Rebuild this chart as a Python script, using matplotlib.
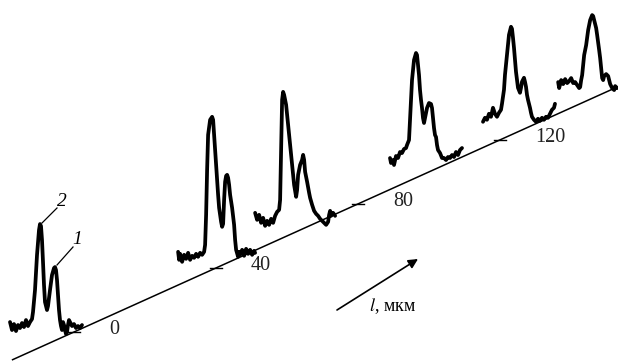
import numpy as np
import matplotlib.pyplot as plt

plt.rcParams['font.family'] = ['Liberation Serif', 'DejaVu Serif']
plt.rcParams['mathtext.fontset'] = 'stix'

# positions of the scanned profiles along the sample, мкм
profile_l = [3.1, 48.2, 71.3, 109.3, 133.8, 156.1]

# each profile: scan coordinate (relative to the axis) and signal (arb. units)
scan_1 = [-75, -73, -71, -69, -67, -65, -63, -61, -59, -57, -55, -53, -52, -50, -48, -46, -45,
          -44, -43, -42, -41, -40, -38, -37, -35, -33, -31, -30, -29, -28, -27, -26, -25, -24,
          -23, -22, -21, -20, -19, -18, -17, -16, -15, -13, -11, -9, -7, -5, -3]
signal_1 = [5, -3, 3, -4, 2, -1, 4, 0, 7, 1, 5, 8, 15, 37, 72, 97, 103,
            101, 87, 65, 42, 25, 17, 21, 37, 52, 59, 60, 57, 47, 32, 17, 7, 1,
            -3, 5, 2, -3, -7, -5, 2, 7, 5, 1, 3, -1, 1, -1, 2]

scan_2 = [-67, -66, -65, -63, -61, -59, -57, -55, -53, -51, -49, -47, -45, -43, -41, -40, -39, -38,
          -37, -35, -33, -32, -31, -30, -29, -28, -27, -26, -25, -24, -23, -22, -21, -20, -19, -18,
          -17, -16, -15, -13, -11, -10, -9, -7, -6, -5, -3, -1, 1, 3, 5, 7, 9, 10]
signal_2 = [3, -5, 1, -7, 0, -4, 2, -5, -1, -3, 1, -2, 2, 0, 3, 10, 40, 85,
            120, 135, 138, 135, 120, 105, 90, 75, 60, 47, 40, 33, 28, 31, 55, 73, 79, 80,
            77, 70, 60, 47, 30, 15, 5, -2, 3, 0, 5, -1, 6, 1, 5, 0, 4, 2]

scan_3 = [-72, -70, -68, -66, -64, -62, -60, -58, -56, -54, -52, -50, -48, -47, -46, -45, -44,
          -43, -41, -40, -39, -37, -35, -33, -31, -30, -29, -27, -25, -24, -23, -22, -20, -18,
          -17, -15, -13, -11, -9, -7, -5, -3, -1, 1, 2, 3, 4, 6, 8]
signal_3 = [5, -2, 3, -5, 0, -8, -3, -7, -1, -5, 2, 6, 8, 18, 68, 118, 126,
            123, 113, 103, 93, 73, 53, 33, 21, 28, 43, 53, 58, 63, 58, 46, 36, 25,
            20, 13, 7, 4, 2, -1, -3, -5, -7, -4, 3, 7, 2, 5, 2]

scan_4 = [-72, -71, -69, -68, -66, -64, -62, -60, -58, -56, -55, -53, -52, -51, -50, -48,
          -46, -45, -44, -43, -42, -41, -40, -39, -38, -37, -35, -33, -31, -30, -29, -28,
          -27, -26, -25, -24, -22, -20, -18, -16, -14, -12, -10, -8, -6, -4, -2, 0]
signal_4 = [-1, -6, -3, -8, 1, -1, 5, 4, 8, 9, 12, 17, 37, 57, 77, 97,
            104, 102, 92, 82, 67, 57, 49, 39, 34, 39, 49, 54, 53, 49, 39, 29,
            22, 20, 12, 7, 4, -1, -1, -3, 0, -1, 2, 0, 5, 2, 7, 9]

scan_5 = [-66, -64, -62, -60, -58, -56, -54, -52, -50, -48, -47, -45, -44, -42, -40, -38,
          -37, -36, -35, -34, -33, -32, -31, -29, -28, -27, -26, -25, -24, -23, -22, -21,
          -20, -19, -18, -17, -15, -13, -11, -9, -7, -5, -3, -1, 1, 3, 5, 6]
signal_5 = [-4, 0, -2, 4, 1, 10, 4, 1, 5, 8, 14, 28, 43, 63, 83, 91,
            89, 80, 70, 58, 46, 38, 30, 25, 30, 36, 38, 40, 36, 31, 23, 18,
            14, 10, 5, 1, -2, -4, -1, -3, 0, -2, 1, 0, 4, 8, 10, 14]

scan_6 = [-70, -69, -67, -65, -63, -61, -59, -57, -55, -53, -51, -49, -48, -47, -46, -45, -44,
          -42, -40, -38, -36, -35, -34, -32, -31, -29, -28, -27, -26, -25, -24, -22, -20,
          -19, -18, -16, -14, -13, -11]
signal_6 = [0, -6, 2, -2, 3, -1, 1, 4, -1, 0, -3, -6, -5, 2, 7, 17, 27,
            37, 52, 62, 67, 66, 62, 54, 47, 32, 24, 14, 4, 2, 6, 8, 6,
            2, -2, -6, -8, -4, -6]

axis_range = [-17.5, 153.2]
axis_ticks = [0, 40, 80, 120]
tick_labels = ['0', '40', '80', '120']

scans = [scan_1, scan_2, scan_3, scan_4, scan_5, scan_6]
signals = [signal_1, signal_2, signal_3, signal_4, signal_5, signal_6]

# oblique projection: l runs up the slanted axis, scan horizontal, signal vertical
X0, Y0 = 74.0, 332.0
KX, KY = 3.55, 1.601


def project(l, u=0.0, h=0.0):
    l = np.asarray(l, dtype=float)
    return X0 + KX * l + np.asarray(u, dtype=float), Y0 - KY * l - np.asarray(h, dtype=float)


fig = plt.figure(figsize=(6.18, 3.61), dpi=100)
ax = fig.add_axes([0, 0, 1, 1])
ax.set_xlim(0, 618)
ax.set_ylim(361, 0)
ax.axis('off')

# slanted l axis
xs, ys = project(axis_range)
ax.plot(xs, ys, color='black', lw=1.1, solid_capstyle='butt')

for t, lab in zip(axis_ticks, tick_labels):
    tx, ty = project(t)
    ax.plot([tx - 6, tx + 6], [ty, ty], color='black', lw=1.0)
    ax.text(tx + 35, ty - 2, lab, fontsize=14.5, ha='left', va='center', color='#222222')

for l, u, h in zip(profile_l, scans, signals):
    px, py = project(l, u, h)
    ax.plot(px, py, color='black', lw=2.7, solid_joinstyle='round', solid_capstyle='round')

# peak labels with leader lines
ax.plot([57, 42], [208, 223], color='black', lw=0.9)
ax.text(62, 202, '2', fontsize=14, style='italic', ha='center', va='center')
ax.plot([73, 57], [247, 265], color='black', lw=0.9)
ax.text(77, 240, '1', fontsize=14, style='italic', ha='center', va='center')

# direction arrow
ax.annotate('', xy=(418, 259), xytext=(337, 310),
            arrowprops=dict(arrowstyle='-|>', color='black', lw=1.2,
                            mutation_scale=14, shrinkA=0, shrinkB=0))
ax.text(369, 311, r'$\mathit{l}$, мкм', fontsize=13, ha='left', va='baseline')

plt.savefig('out.png', dpi=100)
plt.close()
